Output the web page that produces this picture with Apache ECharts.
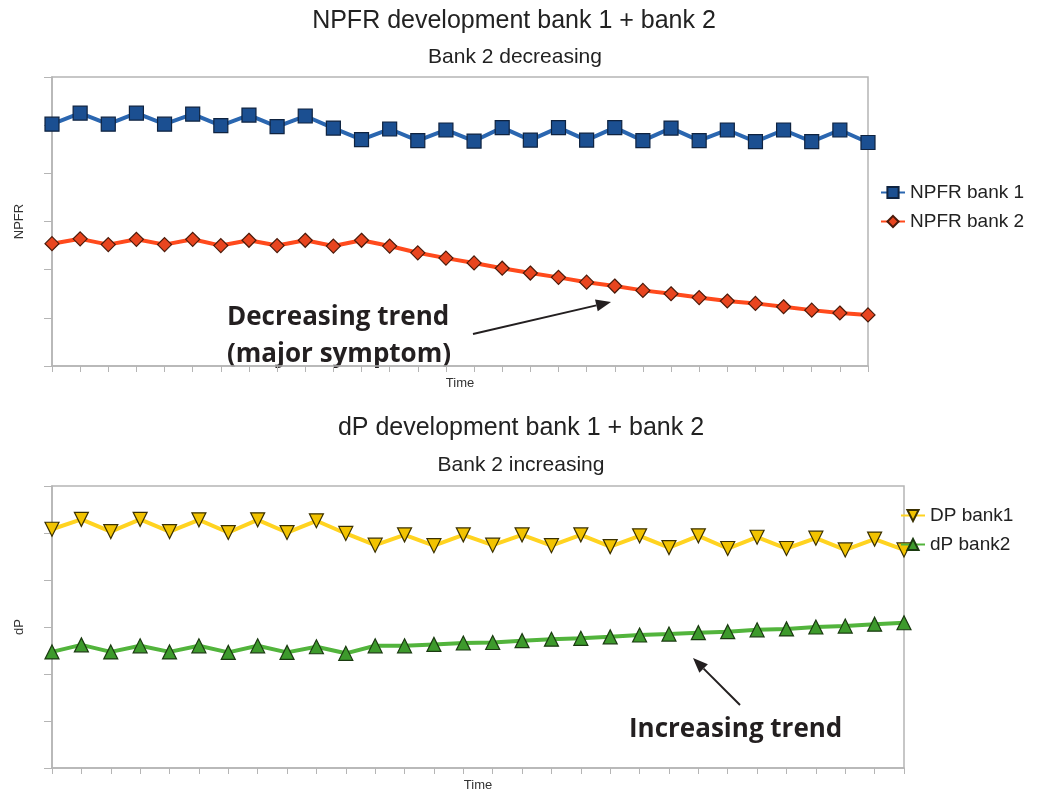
<!DOCTYPE html>
<html>
<head>
<meta charset="utf-8">
<script src="https://cdn.jsdelivr.net/npm/echarts@6/dist/echarts.min.js"></script>
<style>
html,body{margin:0;padding:0;background:#fff;}
#chart{width:1047px;height:801px;}
</style>
</head>
<body>
<div id="chart"></div>
<script>
// ---- data ----
const timeSteps = [1,2,3,4,5,6,7,8,9,10,11,12,13,14,15,16,17,18,19,20,21,22,23,24,25,26,27,28,29,30];
const npfrBank1 = [50.2,52.5,50.2,52.5,50.2,52.3,49.9,52.1,49.7,51.9,49.4,47.0,49.2,46.8,49.0,46.7,49.5,46.9,49.5,46.9,49.5,46.8,49.4,46.8,49.0,46.6,49.0,46.6,49.0,46.4];
const npfrBank2 = [25.4,26.4,25.2,26.3,25.2,26.3,25.0,26.1,25.0,26.1,24.9,26.1,24.9,23.5,22.4,21.4,20.3,19.3,18.4,17.4,16.6,15.7,15.0,14.2,13.5,13.0,12.3,11.6,11.0,10.6];
const dpBank1 = [50.8,52.9,50.3,52.9,50.3,52.8,50.1,52.8,50.1,52.6,49.9,47.4,49.6,47.3,49.6,47.4,49.6,47.3,49.6,47.1,49.4,46.9,49.4,46.7,49.1,46.7,48.9,46.4,48.7,46.4];
const dpBank2 = [24.7,26.2,24.7,26.0,24.7,26.0,24.6,26.0,24.6,25.8,24.4,26.0,26.0,26.3,26.6,26.7,27.1,27.4,27.6,27.9,28.3,28.5,28.8,29.0,29.4,29.6,30.0,30.2,30.6,30.9];
const yTicks = {min: 0, max: 60, interval: 10};

// ---- styles ----
const AXIS = '#b5b5b5';
const baseFont = 'Liberation Sans, Arial, sans-serif';
const annFont = '"Open Sans", Lato, sans-serif';

function xAxis(gridIndex) {
  return {
    type: 'category', gridIndex, data: timeSteps, boundaryGap: false,
    name: 'Time', nameLocation: 'middle', nameGap: 11,
    nameTextStyle: {fontFamily: baseFont, fontSize: 13, color: '#333'},
    axisLine: {lineStyle: {color: AXIS, width: 1.5}},
    axisTick: {show: true, interval: 0, length: 6, lineStyle: {color: AXIS}},
    axisLabel: {show: false}, splitLine: {show: false}
  };
}
function yAxis(gridIndex, name) {
  return {
    type: 'value', gridIndex, min: yTicks.min, max: yTicks.max, interval: yTicks.interval,
    name, nameLocation: 'middle', nameGap: 26, nameRotate: 90,
    nameTextStyle: {fontFamily: baseFont, fontSize: 13, color: '#333'},
    axisLine: {show: true, lineStyle: {color: AXIS, width: 1.5}},
    axisTick: {show: true, length: 8, lineStyle: {color: AXIS}},
    axisLabel: {show: false}, splitLine: {show: false}
  };
}
function lineSeries(name, data, gi, lineColor, fill, border, symbol, size, rotate) {
  return {
    type: 'line', name, data, xAxisIndex: gi, yAxisIndex: gi,
    symbol, symbolSize: size, symbolRotate: rotate || 0, showAllSymbol: true,
    lineStyle: {color: lineColor, width: 4},
    itemStyle: {color: fill, borderColor: border, borderWidth: 1.2},
    emphasis: {disabled: true}, animation: false
  };
}
function arrow(x1, y1, x2, y2) {
  const ang = Math.atan2(y2 - y1, x2 - x1);
  const L = 15, W = 6;
  const bx = x2 - L * Math.cos(ang), by = y2 - L * Math.sin(ang);
  const px = -Math.sin(ang) * W, py = Math.cos(ang) * W;
  return [
    {type: 'line', shape: {x1, y1, x2: bx, y2: by}, style: {stroke: '#231f20', lineWidth: 2}},
    {type: 'polygon', shape: {points: [[x2, y2], [bx + px, by + py], [bx - px, by - py]]}, style: {fill: '#231f20'}}
  ];
}

const chart = echarts.init(document.getElementById('chart'), null, {renderer: 'canvas'});
chart.setOption({
  animation: false,
  backgroundColor: '#fff',
  title: [
    {text: 'NPFR development bank 1 + bank 2', left: 514, top: 9, textAlign: 'center', padding: 0,
     textStyle: {fontFamily: baseFont, fontSize: 25, fontWeight: 'normal', color: '#222'}},
    {text: 'Bank 2 decreasing', left: 515, top: 47, textAlign: 'center', padding: 0,
     textStyle: {fontFamily: baseFont, fontSize: 21, fontWeight: 'normal', color: '#222'}},
    {text: 'dP development bank 1 + bank 2', left: 521, top: 416, textAlign: 'center', padding: 0,
     textStyle: {fontFamily: baseFont, fontSize: 25, fontWeight: 'normal', color: '#222'}},
    {text: 'Bank 2 increasing', left: 521, top: 455, textAlign: 'center', padding: 0,
     textStyle: {fontFamily: baseFont, fontSize: 21, fontWeight: 'normal', color: '#222'}}
  ],
  legend: [
    {data: ['NPFR bank 1', 'NPFR bank 2'], orient: 'vertical', left: 880, top: 183, padding: 0,
     itemWidth: 24, itemHeight: 14, itemGap: 10,
     textStyle: {fontFamily: baseFont, fontSize: 19, color: '#222'}},
    {data: ['DP bank1', 'dP bank2'], orient: 'vertical', left: 900, top: 506, padding: 0,
     itemWidth: 24, itemHeight: 14, itemGap: 10,
     textStyle: {fontFamily: baseFont, fontSize: 19, color: '#222'}}
  ],
  grid: [
    {left: 52, top: 77, width: 816, height: 289, show: true, borderColor: AXIS, borderWidth: 1.5, backgroundColor: 'transparent'},
    {left: 52, top: 486, width: 852, height: 282, show: true, borderColor: AXIS, borderWidth: 1.5, backgroundColor: 'transparent'}
  ],
  xAxis: [xAxis(0), xAxis(1)],
  yAxis: [yAxis(0, 'NPFR'), yAxis(1, 'dP')],
  series: [
    lineSeries('NPFR bank 1', npfrBank1, 0, '#2a66b0', '#1b4f91', '#0f2340', 'rect', 14),
    lineSeries('NPFR bank 2', npfrBank2, 0, '#ff4a1c', '#e8451f', '#4a1a0a', 'diamond', 14),
    lineSeries('DP bank1', dpBank1, 1, '#ffd320', '#f2c300', '#3a3000', 'triangle', 14, 180),
    lineSeries('dP bank2', dpBank2, 1, '#52b43c', '#3d9a2c', '#1a3a10', 'triangle', 14)
  ],
  graphic: [
    {type: 'text', left: 227, top: 305, style: {text: 'Decreasing trend', font: 'bold 26px ' + annFont, fill: '#231f20'}},
    {type: 'text', left: 227, top: 342, style: {text: '(major symptom)', font: 'bold 26px ' + annFont, fill: '#231f20'}},
    {type: 'text', left: 629, top: 717, style: {text: 'Increasing trend', font: 'bold 26px ' + annFont, fill: '#231f20'}},
    ...arrow(473, 334, 611, 302),
    ...arrow(740, 705, 693, 658)
  ]
});
</script>
</body>
</html>
